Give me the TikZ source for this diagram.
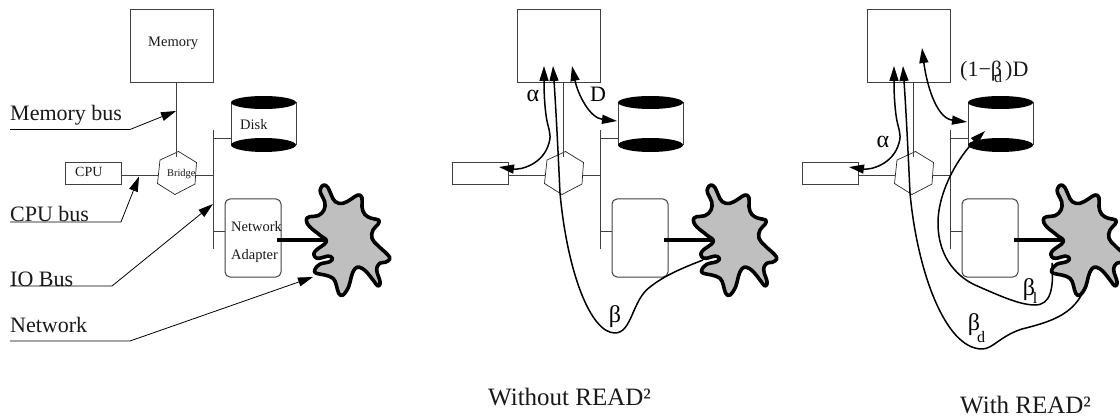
\documentclass[tikz,border=0pt]{standalone}
\usepackage{fontspec}
\setmainfont{Liberation Serif}
\usetikzlibrary{arrows.meta}
\newcommand{\fs}[1]{\fontsize{#1}{#1}\selectfont}
\tikzset{
  hw/.style={draw=black!75,line width=1pt,inner sep=0pt},
  bus/.style={draw=black!75,line width=1pt},
  txt/.style={inner sep=0pt,anchor=base west,text=black!90},
  leader/.style={draw=black,line width=0.8pt,-{Triangle[length=15pt,width=9pt]}},
  flow/.style={draw=black,line width=1.5pt,line join=round},
  headA/.style={-{Triangle[length=15pt,width=9pt]}},
  headB/.style={{Triangle[length=15pt,width=9pt]}-{Triangle[length=15pt,width=9pt]}},
  cloudy/.style={draw=black,line width=3.6pt,fill=black!25,line join=round},
  link/.style={draw=black,line width=3.6pt}
}
% #1 = name suffix, #2 = x shift
\newcommand{\basefig}[2]{%
\begin{scope}[xshift=#2pt]
  \node[hw,minimum width=83pt,minimum height=73pt] (mem#1) at (171.5,46.5) {};
  \node[hw,minimum width=56pt,minimum height=22pt] (cpu#1) at (93,174) {};
  \node[hw,rounded corners=5pt,minimum width=56pt,minimum height=78pt] (adp#1) at (253,238) {};
  % disk
  \draw[hw] (231,102.5) -- (231,145) (296,102.5) -- (296,145);
  \node[inner sep=0pt,minimum width=65pt,minimum height=72pt] (dsk#1) at (263.5,124) {};
  \fill[black] (263.5,102.5) ellipse [x radius=32.5,y radius=6.5];
  \fill[black] (263.5,145) ellipse [x radius=32.5,y radius=7];
  % bridge hexagon
  \node[inner sep=0pt,minimum size=38pt] (brg#1) at (177,173) {};
  \draw[draw=black!85,line width=0.7pt] (178.5,151.5) -- (196.5,162.5) -- (195,184) -- (175,194.5) -- (157.5,183.5) -- (160,160) -- cycle;
  % buses
  \coordinate (mbT#1) at (176,83);
  \coordinate (mbB#1) at (176,157);
  \draw[bus] (mbT#1) -- (mbB#1);
  \coordinate (ioT#1) at (213,130);
  \coordinate (ioB#1) at (213,249);
  \draw[bus] (ioT#1) -- (ioB#1);
  \coordinate (ioD#1) at (213,139);
  \coordinate (ioDe#1) at (231,139);
  \draw[bus] (ioD#1) -- (ioDe#1);
  \coordinate (ioA#1) at (213,231);
  \draw[bus] (ioA#1) -- (225,231);
  \coordinate (cpE#1) at (121,175.5);
  \coordinate (cpH#1) at (157.5,175.5);
  \draw[bus] (cpE#1) -- (cpH#1);
  \coordinate (brE#1) at (195.5,175.5);
  \coordinate (ioC#1) at (213,175.5);
  \draw[bus] (brE#1) -- (ioC#1);
  % network cloud
  \draw[cloudy] plot[smooth cycle,tension=0.7] coordinates {
    (320.7,188.3) (324,185) (328,187.7) (331.3,195) (335.3,201.7) (343,203.3)
    (351.3,199) (358,195) (362,197.7) (362,206.7) (364.7,214.3) (371.3,218.3)
    (378.7,220) (378,224.3) (373,230) (372,238.3) (378,245.7) (387.3,254.3)
    (389.7,259) (385.3,262.3) (379.7,263.3) (376.7,270) (380,281.7) (378,286)
    (373,280) (366.3,271.7) (359.7,267.3) (354.7,269) (351.3,276.7) (348.7,286.7)
    (343,295) (338.7,293.3) (336.3,285) (333,278.3) (324.7,275) (316.3,273.3)
    (314.7,270) (319.7,264.3) (329.7,261.7) (332.3,258.3) (328,256) (319.7,258.3)
    (314.7,256.7) (315.3,251) (326.3,241.7) (319.7,235) (309.7,226.7) (306.3,220)
    (309.7,216.7) (318,215.7) (324,210) (324.7,201.7) (320.7,193.3)};
  \coordinate (lkA#1) at (277,240);
  \coordinate (lkC#1) at (327,240);
  \draw[link] (lkA#1) -- (lkC#1);
\end{scope}}
\begin{document}
\begin{tikzpicture}[x=1pt,y=-1pt]
\useasboundingbox (0,0) rectangle (1120,417);
\basefig{a}{0}
\basefig{b}{387}
\basefig{c}{737}

% left texts
\node[txt,font=\fs{14.5}] (tMem) at (148,47) {Memory};
\node[txt,font=\fs{14.5}] (tDisk) at (240,130) {Disk};
\node[txt,font=\fs{14}] (tCpu) at (75,177) {CPU};
\node[txt,font=\fs{10.4}] (tBrg) at (167,177) {Bridge};
\node[txt,font=\fs{14.5}] (tNet) at (231,231) {Network};
\node[txt,font=\fs{14.5}] (tAd) at (231,259) {Adapter};
\node[txt,font=\fs{22}] (lMb) at (10,121) {Memory bus};
\node[txt,font=\fs{22}] (lCb) at (10,222) {CPU bus};
\node[txt,font=\fs{22}] (lIb) at (10,286) {IO Bus};
\node[txt,font=\fs{22}] (lNw) at (10,332) {Network};

% leaders
\coordinate (a1) at (10,129.5); \coordinate (a2) at (130,129.5); \coordinate (a3) at (176,111);
\draw[leader] (a1) -- (a2) -- (a3);
\coordinate (b1) at (10,222); \coordinate (b2) at (121,222); \coordinate (b3) at (139,176.5);
\draw[leader] (b1) -- (b2) -- (b3);
\coordinate (c1) at (10,286); \coordinate (c2) at (112,286); \coordinate (c3) at (213,204);
\draw[leader] (c1) -- (c2) -- (c3);
\coordinate (d1) at (10,341); \coordinate (d2) at (130,341); \coordinate (d3) at (313,277);
\draw[leader] (d1) -- (d2) -- (d3);

% middle flows
\coordinate (m1) at (544,66); \coordinate (m2) at (499,167);
\draw[flow,headB] (m1) .. controls (544,85) and (544,100) .. (546,115) .. controls (548,130) and (552,133) .. (549,143) .. controls (543,165) and (520,170) .. (m2);
\coordinate (m3) at (553,66); \coordinate (m4) at (703,260);
\draw[flow,headA] (m4) .. controls (685,267) and (665,275) .. (650,287) .. controls (632,300) and (632,333) .. (615,333) .. controls (590,333) and (567,270) .. (560,193) .. controls (558,150) and (556,110) .. (m3);
\coordinate (m5) at (572,66); \coordinate (m6) at (617,121);
\draw[flow,headB] (m5) .. controls (578,95) and (590,118) .. (m6);
\node[inner sep=0pt,font=\fs{24}] (mAl) at (533,96) {α};
\node[inner sep=0pt,anchor=base,font=\fs{22}] (mD) at (598,102) {D};
\node[inner sep=0pt,font=\fs{24}] (mBe) at (615,317) {β};
\node[txt,font=\fs{25}] (mCap) at (488,405) {Without READ²};

% right flows
\coordinate (r1) at (894,66); \coordinate (r2) at (849,167);
\draw[flow,headB] (r1) .. controls (894,85) and (894,100) .. (896,115) .. controls (898,130) and (902,133) .. (899,143) .. controls (893,165) and (870,170) .. (r2);
\coordinate (r3) at (903,66); \coordinate (r4) at (1083,292);
\draw[flow,headA] (r4) .. controls (1072,315) and (1050,322) .. (1022,329) .. controls (1000,336) and (993,349) .. (982,349) .. controls (945,349) and (917,270) .. (910,193) .. controls (908,150) and (906,110) .. (r3);
\coordinate (r5) at (922,48); \coordinate (r6) at (967,122);
\draw[flow,headB] (r5) .. controls (926,80) and (935,118) .. (r6);
\coordinate (r7) at (985,131); \coordinate (r8) at (1052,263);
\draw[flow,headA] (r8) .. controls (1054,290) and (1050,305) .. (1035,305) .. controls (1020,305) and (1000,296) .. (975,285) .. controls (960,278) and (938,260) .. (938,223) .. controls (938,190) and (960,155) .. (r7);
\node[inner sep=0pt,font=\fs{24}] (rAl) at (883,142) {α};
\node[inner sep=0pt,font=\fs{24}] (rB1) at (1029,290) {β};
\node[inner sep=0pt,font=\fs{16}] (rB1s) at (1035,298) {l};
\node[inner sep=0pt,font=\fs{24}] (rB2) at (974,325) {β};
\node[inner sep=0pt,anchor=base,font=\fs{16}] (rB2s) at (981,342) {d};
\node[txt,font=\fs{22}] (rF) at (960,77) {(1−β};
\node[txt,font=\fs{16}] (rFs) at (994,83) {d};
\node[txt,font=\fs{22}] (rFe) at (1005,77) {)D};
\node[txt,font=\fs{25}] (rCap) at (960,413) {With READ²};
\end{tikzpicture}
\end{document}
